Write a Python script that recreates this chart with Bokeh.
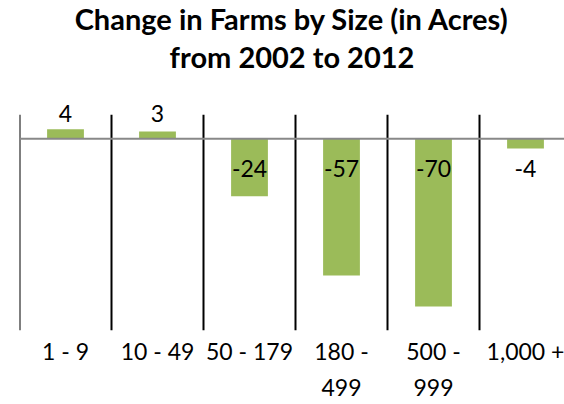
from bokeh.plotting import figure
from bokeh.models import Range1d, FixedTicker, Title, ColumnDataSource, Span
from bokeh.core.properties import value
from bokeh.embed import file_html
from bokeh.resources import INLINE

title_lines = ["Change in Farms by Size (in Acres)", "from 2002 to 2012"]
categories = ["1 - 9", "10 - 49", "50 - 179", "180 -\n499", "500 -\n999", "1,000 +"]
changes = [4, 3, -24, -57, -70, -4]

FONT = "Lato"
x = [i + 0.5 for i in range(len(categories))]
n = len(categories)

p = figure(width=564, height=404, output_backend="svg", toolbar_location=None,
           x_range=Range1d(0, 545 / 92), y_range=Range1d(-80, 26),
           min_border_left=19, min_border_right=0, min_border_top=0, min_border_bottom=0)
p.outline_line_color = None
p.background_fill_color = "white"
p.border_fill_color = "white"
p.title = None

p.add_layout(Title(text=title_lines[1], align="center", text_font=FONT, text_font_size="29px",
                   text_font_style="bold", text_color="black", text_line_height=1.0,
                   standoff=5), "above")
p.add_layout(Title(text=title_lines[0], align="center", text_font=FONT, text_font_size="29px",
                   text_font_style="bold", text_color="black", text_line_height=1.0,
                   standoff=-3), "above")

# category separators (value axis spans -80..10)
p.segment(x0=list(range(n)), x1=list(range(n)), y0=[-80] * n, y1=[10] * n,
          line_color="black", line_width=2)

# bars
src = ColumnDataSource(dict(x=x, top=[max(v, 0) for v in changes], bottom=[min(v, 0) for v in changes]))
p.vbar(x="x", top="top", bottom="bottom", width=0.4, source=src, fill_color="#9BBB59", line_color=None)

# zero line
p.add_layout(Span(location=0, dimension="width", line_color="#888888", line_width=2))

# data labels
lab_y = [10.5 if v > 0 else -12.5 for v in changes]
lsrc = ColumnDataSource(dict(x=x, y=lab_y, t=[str(v) for v in changes]))
p.text(x="x", y="y", text="t", source=lsrc, text_align="center", text_baseline="middle",
       text_font=value(FONT), text_font_size="23px", text_color="black")

# axes
p.yaxis.visible = False
p.grid.visible = False
p.xaxis.ticker = FixedTicker(ticks=x)
p.xaxis.major_label_overrides = {xi: c for xi, c in zip(x, categories)}
p.xaxis.axis_line_color = None
p.xaxis.major_tick_line_color = None
p.xaxis.minor_tick_line_color = None
p.xaxis.major_label_text_font = FONT
p.xaxis.major_label_text_font_size = "23px"
p.xaxis.major_label_text_color = "black"
p.xaxis.major_label_standoff = 0
p.xaxis.major_label_text_line_height = 1.32

open("out.html", "w").write(file_html(p, INLINE))
